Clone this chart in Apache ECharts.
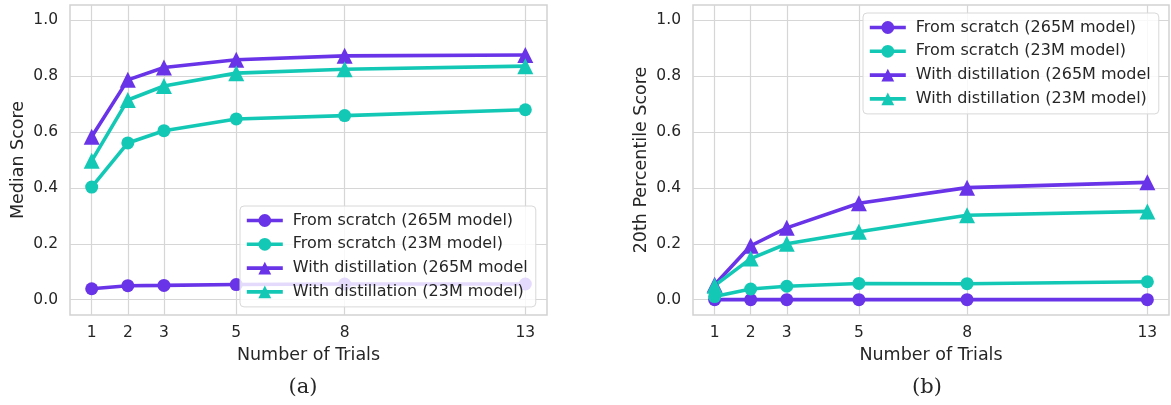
<!DOCTYPE html>
<html>
<head>
<meta charset="utf-8">
<script src="https://cdn.jsdelivr.net/npm/echarts@6/dist/echarts.min.js"></script>
<style>html,body{margin:0;padding:0;background:#fff;}#c{width:1171px;height:405px;}</style>
</head>
<body>
<div id="c"></div>
<script>
const trials = [1, 2, 3, 5, 8, 13];
const yTicks = [0, 0.2, 0.4, 0.6, 0.8, 1.0];
const seriesNames = ['From scratch (265M model)', 'From scratch (23M model)', 'With distillation (265M model', 'With distillation (23M model)'];

// Panel (a): Median score
const medScratch265 = [0.039, 0.050, 0.051, 0.054, 0.056, 0.056];
const medScratch23 = [0.403, 0.561, 0.605, 0.647, 0.659, 0.680];
const medDistill265 = [0.583, 0.787, 0.831, 0.859, 0.873, 0.876];
const medDistill23 = [0.497, 0.715, 0.765, 0.811, 0.825, 0.836];

// Panel (b): 20th percentile score
const p20Scratch265 = [0.0, 0.0, 0.0, 0.0, 0.0, 0.0];
const p20Scratch23 = [0.011, 0.038, 0.048, 0.058, 0.057, 0.064];
const p20Distill265 = [0.053, 0.193, 0.257, 0.345, 0.401, 0.420];
const p20Distill23 = [0.050, 0.147, 0.200, 0.243, 0.302, 0.316];

const PURPLE = '#6933E8';
const TEAL = '#14C8B6';
const TXT = '#262626';
const FONT = 'DejaVu Sans';

function pairs(vals) { return trials.map((t, i) => [t, vals[i]]); }

function mkSeries(idx, name, vals, color, symbol) {
  return {
    type: 'line', name: name, xAxisIndex: idx, yAxisIndex: idx,
    data: pairs(vals), symbol: symbol, symbolSize: symbol === 'circle' ? 13 : 16,
    lineStyle: { color: color, width: 3.6 }, itemStyle: { color: color },
    showSymbol: true, animation: false, z: 3
  };
}

const grids = [
  { left: 70, top: 5, width: 477, height: 310 },
  { left: 693, top: 5, width: 476, height: 310 }
];

function xAx(idx) {
  return {
    type: 'value', gridIndex: idx, min: 0.4, max: 13.6,
    name: 'Number of Trials', nameLocation: 'middle', nameGap: 31,
    nameTextStyle: { fontFamily: FONT, fontSize: 17.5, color: TXT },
    axisLine: { show: false }, 
    axisTick: { show: false, customValues: trials },
    axisLabel: { customValues: trials, fontFamily: FONT, fontSize: 15.5, color: TXT, margin: 10 },
    splitLine: { show: true, lineStyle: { color: '#d6d6d6', width: 1.2 } }
  };
}
function yAx(idx, name) {
  return {
    type: 'value', gridIndex: idx, min: -0.055, max: 1.055,
    name: name, nameLocation: 'middle', nameGap: 43,
    nameTextStyle: { fontFamily: FONT, fontSize: 17.5, color: TXT },
    axisLine: { show: false },
    axisTick: { show: false, customValues: yTicks },
    axisLabel: { customValues: yTicks, fontFamily: FONT, fontSize: 15.5, color: TXT, margin: 12,
      formatter: v => v.toFixed(1) },
    splitLine: { show: true, lineStyle: { color: '#d6d6d6', width: 1.2 } }
  };
}

function legend(pos) {
  return Object.assign({
    orient: 'vertical', data: seriesNames, itemWidth: 36, itemHeight: 16, itemGap: 7.8,
    backgroundColor: 'rgba(255,255,255,0.82)', borderColor: '#d8d8d8', borderWidth: 1, borderRadius: 4,
    padding: [6.5, 8, 7, 5],
    lineStyle: { width: 3.6 },
    textStyle: { fontFamily: FONT, fontSize: 16, color: TXT, padding: [0, 0, 0, 5] },
    selectedMode: false, z: 10
  }, pos);
}

const chart = echarts.init(document.getElementById('c'), null, { renderer: 'canvas' });
chart.setOption({
  animation: false,
  backgroundColor: '#ffffff',
  grid: grids.map(g => Object.assign({ show: true, borderColor: '#d2d2d2', borderWidth: 1.5, backgroundColor: 'transparent' }, g)),
  xAxis: [xAx(0), xAx(1)],
  yAxis: [yAx(0, 'Median Score'), yAx(1, '20th Percentile Score')],
  legend: [legend({ left: 240, top: 206 }), legend({ left: 863, top: 13 })],
  title: [
    { text: '(a)', left: 298, top: 372, textAlign: 'center', textStyle: { fontFamily: 'DejaVu Serif', fontSize: 21, fontWeight: 'normal', color: TXT } },
    { text: '(b)', left: 922, top: 372, textAlign: 'center', textStyle: { fontFamily: 'DejaVu Serif', fontSize: 21, fontWeight: 'normal', color: TXT } }
  ],
  series: [
    mkSeries(0, seriesNames[0], medScratch265, PURPLE, 'circle'),
    mkSeries(0, seriesNames[1], medScratch23, TEAL, 'circle'),
    mkSeries(0, seriesNames[2], medDistill265, PURPLE, 'triangle'),
    mkSeries(0, seriesNames[3], medDistill23, TEAL, 'triangle'),
    mkSeries(1, seriesNames[0], p20Scratch265, PURPLE, 'circle'),
    mkSeries(1, seriesNames[1], p20Scratch23, TEAL, 'circle'),
    mkSeries(1, seriesNames[2], p20Distill265, PURPLE, 'triangle'),
    mkSeries(1, seriesNames[3], p20Distill23, TEAL, 'triangle')
  ]
});
</script>
</body>
</html>
